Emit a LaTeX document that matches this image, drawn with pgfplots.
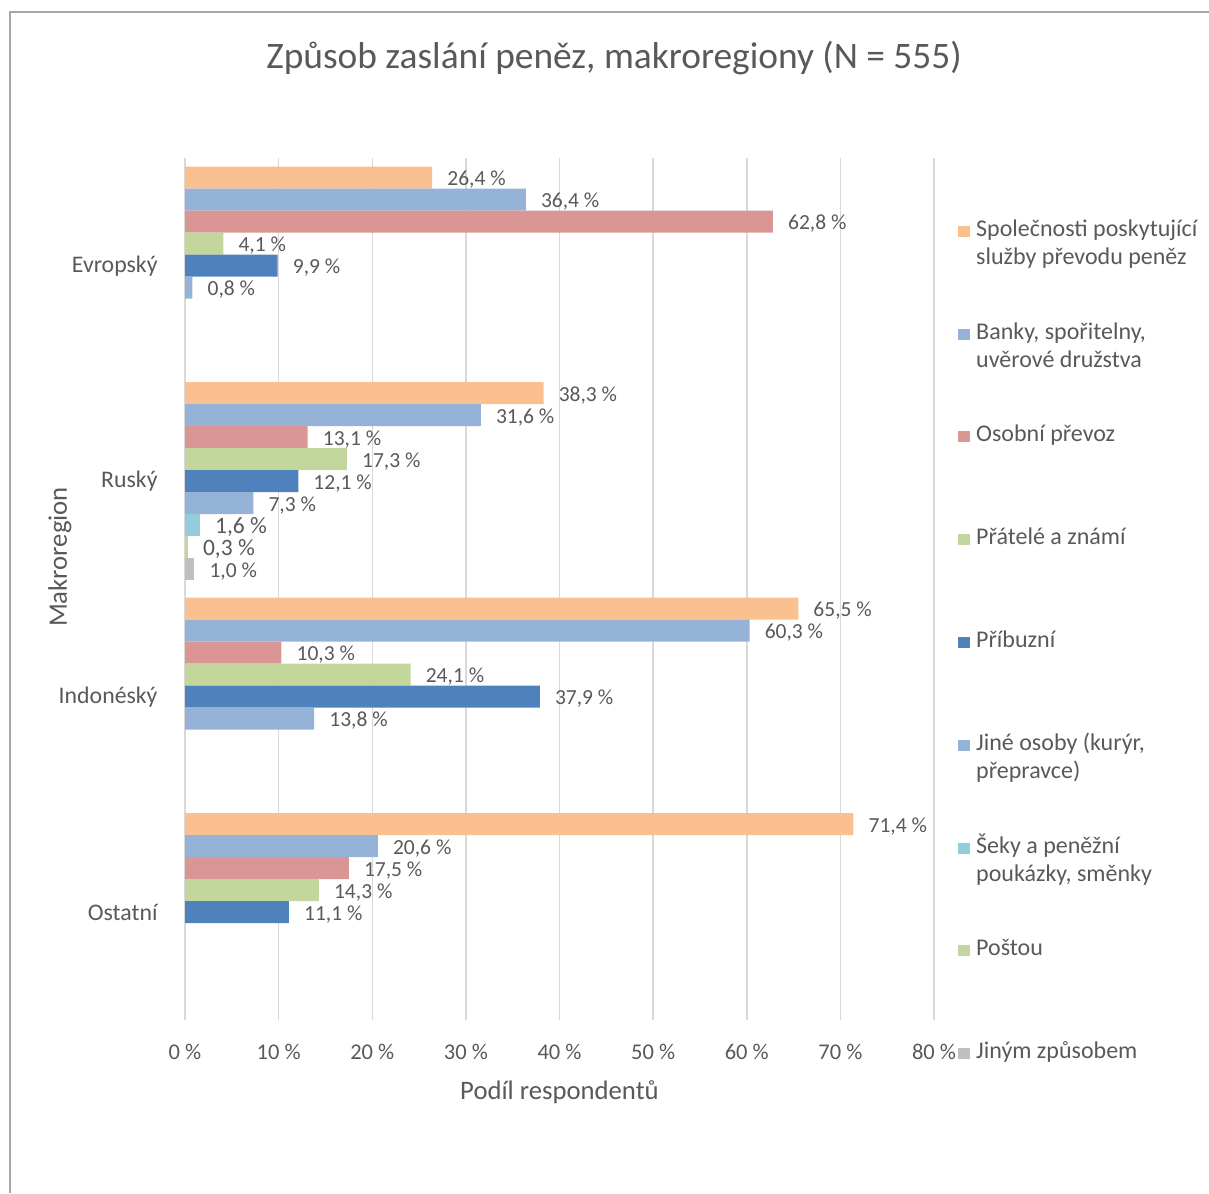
\documentclass[border=0pt]{standalone}
\usepackage{fontspec}
\setmainfont{Carlito}
\usepackage{pgfplots}
\pgfplotsset{compat=1.18}
\definecolor{txt}{HTML}{595959}
\definecolor{cOr}{HTML}{FAC090}
\definecolor{cBl}{HTML}{95B3D7}
\definecolor{cRd}{HTML}{D99694}
\definecolor{cGr}{HTML}{C3D69B}
\definecolor{cDb}{HTML}{4F81BD}
\definecolor{cCy}{HTML}{93CDDD}
\definecolor{cGy}{HTML}{BFBFBF}
\definecolor{gridc}{HTML}{D9D9D9}
\definecolor{framec}{HTML}{A6A6A6}
\newcommand{\fs}[1]{\fontsize{#1}{#1}\selectfont}
\begin{document}
\begin{tikzpicture}[x=1pt,y=1pt]
\useasboundingbox (0,0) rectangle (1209,1193);
\draw[framec, line width=1.2pt] (10,0) -- (10,1181) -- (1209,1181);
\node[text=txt, font=\fs{37.4}, inner sep=0pt] at (614,1135) {Způsob zaslání peněz, makroregiony (N = 555)};
\begin{axis}[
 at={(185pt,173pt)}, anchor=south west,
 scale only axis, width=749pt, height=862pt,
 xmin=0, xmax=80, ymin=-0.5, ymax=3.5,
 xbar, bar width=22pt,
 every axis plot/.append style={bar shift=0pt, draw=none},
 axis line style={draw=none},
 xmajorgrids, major grid style={draw=gridc, line width=1.5pt},
 tick style={draw=none},
 xtick={0,10,20,30,40,50,60,70,80},
 xticklabels={0 \%,10 \%,20 \%,30 \%,40 \%,50 \%,60 \%,70 \%,80 \%},
 xticklabel style={font=\fs{22.5}, text=txt, anchor=center, inner sep=0pt, yshift=-32pt},
 ytick={0,1,2,3},
 yticklabels={Ostatní,Indonéský,Ruský,Evropský},
 yticklabel style={font=\fs{23.8}, text=txt, anchor=east, inner sep=0pt, xshift=-23pt},
 xlabel={Podíl respondentů},
 xlabel style={font=\fs{26.7}, text=txt, at={(axis description cs:0.5,0)}, anchor=center, inner sep=0pt, yshift=-72pt},
 ylabel={Makroregion},
 ylabel style={font=\fs{26.7}, text=txt, at={(axis description cs:0,0.537)}, anchor=center, inner sep=0pt, yshift=125pt},
 /pgf/number format/assume math mode=true,
 point meta=x,
 nodes near coords={\pgfmathprintnumber[fixed,fixed zerofill,precision=1,use comma]{\pgfplotspointmeta}~\%},
 every node near coord/.append style={font=\fs{21.5}, text=txt, anchor=west, inner sep=0pt, xshift=15pt, yshift=-2pt},
]
% Společnosti poskytující služby převodu peněz
\addplot[fill=cOr] coordinates {(26.4,3.40835) (38.3,2.40835) (65.5,1.40835) (71.4,0.40835)};
% Banky, spořitelny, uvěrové družstva
\addplot[fill=cBl] coordinates {(36.4,3.30626) (31.6,2.30626) (60.3,1.30626) (20.6,0.30626)};
% Osobní převoz
\addplot[fill=cRd] coordinates {(62.8,3.20418) (13.1,2.20418) (10.3,1.20418) (17.5,0.20418)};
% Přátelé a známí
\addplot[fill=cGr] coordinates {(4.1,3.10209) (17.3,2.10209) (24.1,1.10209) (14.3,0.10209)};
% Příbuzní
\addplot[fill=cDb] coordinates {(9.9,3) (12.1,2) (37.9,1) (11.1,0)};
% Jiné osoby (kurýr, přepravce)
\addplot[fill=cBl] coordinates {(0.8,2.89791) (7.3,1.89791) (13.8,0.89791)};
% Šeky a peněžní poukázky, směnky
\addplot[fill=cCy, every node near coord/.append style={font=\fs{23.5}}] coordinates {(1.6,1.79582)};
% Poštou
\addplot[fill=cGr, every node near coord/.append style={font=\fs{23.5}}] coordinates {(0.3,1.69374)};
% Jiným způsobem
\addplot[fill=cGy] coordinates {(1.0,1.59165)};
\end{axis}
% legend
\begin{scope}[every node/.style={text=txt, font=\fs{24}, inner sep=0pt, anchor=base west}]
\fill[cOr] (958,1193-237) rectangle (970,1193-226);
\node at (976,1193-237) {Společnosti poskytující};
\node at (976,1193-265) {služby převodu peněz};
\fill[cBl] (958,1193-340) rectangle (970,1193-329);
\node at (976,1193-340) {Banky, spořitelny,};
\node at (976,1193-368) {uvěrové družstva};
\fill[cRd] (958,1193-442) rectangle (970,1193-431);
\node at (976,1193-442) {Osobní převoz};
\fill[cGr] (958,1193-545) rectangle (970,1193-534);
\node at (976,1193-545) {Přátelé a známí};
\fill[cDb] (958,1193-648) rectangle (970,1193-637);
\node at (976,1193-648) {Příbuzní};
\fill[cBl] (958,1193-751) rectangle (970,1193-740);
\node at (976,1193-751) {Jiné osoby (kurýr,};
\node at (976,1193-779) {přepravce)};
\fill[cCy] (958,1193-854) rectangle (970,1193-843);
\node at (976,1193-854) {Šeky a peněžní};
\node at (976,1193-882) {poukázky, směnky};
\fill[cGr] (958,1193-956) rectangle (970,1193-945);
\node at (976,1193-956) {Poštou};
\fill[cGy] (958,1193-1059) rectangle (970,1193-1048);
\node at (976,1193-1059) {Jiným způsobem};
\end{scope}
\end{tikzpicture}
\end{document}
